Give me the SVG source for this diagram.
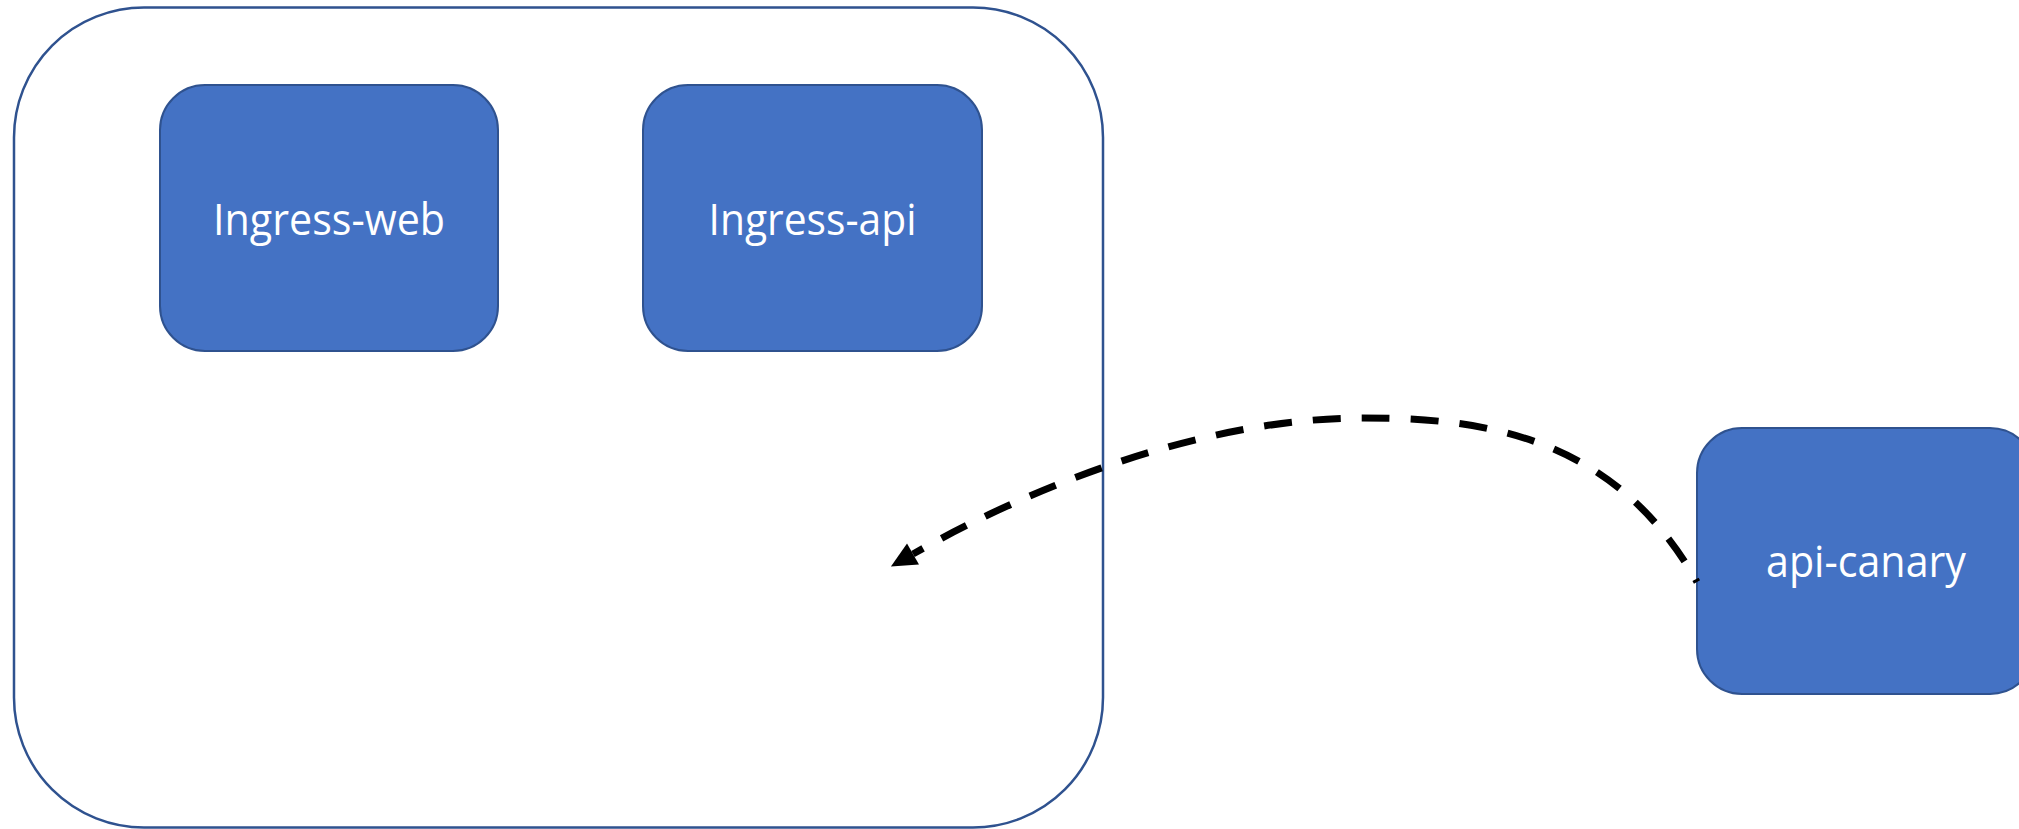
<svg xmlns="http://www.w3.org/2000/svg" width="2019" height="829" viewBox="0 0 2019 829">
  <style>
    .container { fill: #FFFFFF; stroke: #2F528F; stroke-width: 2.5; }
    .box { fill: #4472C4; stroke: #2F528F; stroke-width: 2; }
    .label { fill: #FFFFFF; font-family: "Open Sans", "Noto Sans", "Liberation Sans", sans-serif; font-size: 44px; text-anchor: middle; }
    .conn { fill: none; stroke: #000000; stroke-width: 7; stroke-dasharray: 28 21; stroke-dashoffset: 25; }
  </style>
  <defs>
    <marker id="arrow" markerUnits="userSpaceOnUse" markerWidth="30" markerHeight="30" refX="0" refY="0" viewBox="-2 -12 26 24" orient="auto">
      <path d="M0,-10.5 L22,0 L0,10.5 Z" fill="#000000"/>
    </marker>
  </defs>
  <rect width="2019" height="829" fill="#FFFFFF"/>
  <g id="cluster">
    <rect class="container" x="14" y="7.5" width="1089" height="820" rx="130" ry="130"/>
  </g>
  <g id="ingress-web">
    <rect class="box" x="160" y="85" width="338" height="266" rx="45" ry="45"/>
    <text class="label" x="329" y="235" textLength="232" lengthAdjust="spacingAndGlyphs">Ingress-web</text>
  </g>
  <g id="ingress-api">
    <rect class="box" x="643" y="85" width="339" height="266" rx="45" ry="45"/>
    <text class="label" x="812.5" y="235" textLength="208" lengthAdjust="spacingAndGlyphs">Ingress-api</text>
  </g>
  <g id="api-canary">
    <rect class="box" x="1697" y="428" width="338" height="266" rx="45" ry="45"/>
    <text class="label" x="1866" y="577" textLength="200" lengthAdjust="spacingAndGlyphs">api-canary</text>
  </g>
  <g id="connectors">
    <path class="conn" marker-end="url(#arrow)" d="M1697,582 C1611,429 1470,418 1362,418 C1212,418 1042.5,480.5 913,554"/>
  </g>
</svg>
